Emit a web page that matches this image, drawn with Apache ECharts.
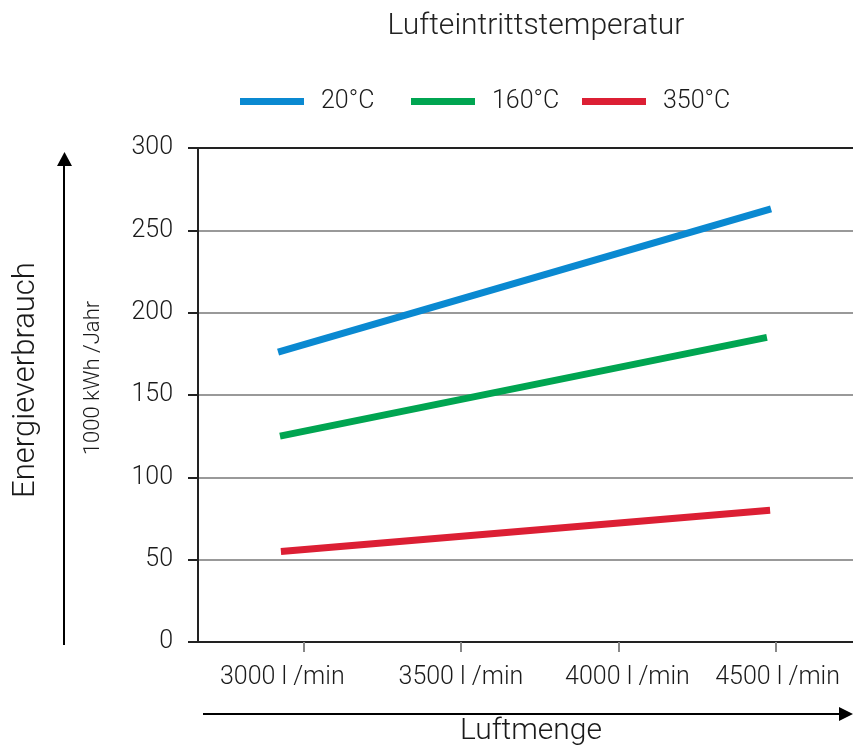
<!DOCTYPE html>
<html>
<head>
<meta charset="utf-8">
<script src="https://cdn.jsdelivr.net/npm/echarts@6/dist/echarts.min.js"></script>
<style>
html,body{margin:0;padding:0;background:#fff;}
#c{width:853px;height:748px;}
</style>
</head>
<body>
<div id="c"></div>
<script>
// ---- data ----
const seriesNames = ['20°C', '160°C', '350°C'];
const flowStart = [2920, 2926, 2929];   // l/min at the left end of each line
const flowEnd   = [4484, 4471, 4481];   // l/min at the right end of each line
const energy20  = [176, 263];
const energy160 = [125, 185];
const energy350 = [55, 80];
const xTickValues = [3000, 3500, 4000, 4500];
const xTickLabels = ['3000 l /min', '3500 l /min', '4000 l /min', '4500 l /min'];
const yTickValues = [0, 50, 100, 150, 200, 250, 300];
const colors = ['#0a89d1', '#00a551', '#dc1f34'];

const FONT = 'Roboto';
const chart = echarts.init(document.getElementById('c'), null, {renderer: 'canvas'});
const energies = [energy20, energy160, energy350];
const labelShift = ['s0', 's1', 's2', 's3'];
const legendLeft = [240, 411, 582];

chart.setOption({
  backgroundColor: '#fff',
  animation: false,
  title: {
    text: 'Lufteintrittstemperatur',
    left: 531, top: 6, textAlign: 'center',
    textStyle: {fontFamily: FONT, fontWeight: 300, fontSize: 30, color: '#222'}
  },
  legend: seriesNames.map(function (name, i) {
    return {
      data: [name],
      left: legendLeft[i], top: 89, padding: 0,
      icon: 'rect', itemWidth: 64, itemHeight: 7,
      textStyle: {fontFamily: FONT, fontWeight: 300, fontSize: 25, color: '#1a1a1a',
                  padding: [0, 0, 0, 12]}
    };
  }),
  grid: {left: 198, right: 0, top: 148, bottom: 106, containLabel: false},
  xAxis: [{
    type: 'value', min: 2666, max: 4744, position: 'bottom',
    axisLine: {show: true, lineStyle: {color: '#222', width: 2}},
    axisTick: {show: true, customValues: xTickValues, length: 10, lineStyle: {color: '#888', width: 2}},
    splitLine: {show: false},
    axisLabel: {
      customValues: xTickValues, margin: 23,
      formatter: function (v) {
        const i = xTickValues.indexOf(v);
        return '{' + labelShift[i] + '|' + xTickLabels[i] + '}';
      },
      fontFamily: FONT, fontWeight: 300, fontSize: 25, color: '#1a1a1a',
      rich: {
        s0: {fontFamily: FONT, fontWeight: 300, fontSize: 25, color: '#1a1a1a', padding: [0, 42, 0, 0]},
        s1: {fontFamily: FONT, fontWeight: 300, fontSize: 25, color: '#1a1a1a', padding: [0, 0, 0, 0]},
        s2: {fontFamily: FONT, fontWeight: 300, fontSize: 25, color: '#1a1a1a', padding: [0, 0, 0, 18]},
        s3: {fontFamily: FONT, fontWeight: 300, fontSize: 25, color: '#1a1a1a', padding: [0, 0, 0, 3]}
      }
    }
  }, {
    type: 'value', min: 2666, max: 4744, position: 'top',
    axisLine: {show: true, lineStyle: {color: '#222', width: 2}},
    axisTick: {show: false}, axisLabel: {show: false}, splitLine: {show: false}
  }],
  yAxis: {
    type: 'value', min: 0, max: 300, interval: 50,
    axisLine: {show: true, lineStyle: {color: '#222', width: 2}},
    axisTick: {show: true, length: 10, lineStyle: {color: '#222', width: 2}},
    splitLine: {show: true, lineStyle: {color: '#999', width: 2}},
    axisLabel: {
      margin: 25, fontFamily: FONT, fontWeight: 300, fontSize: 25, color: '#1a1a1a',
      padding: [0, 0, 8, 0],
      customValues: yTickValues
    }
  },
  series: seriesNames.map(function (name, i) {
    return {
      name: name, type: 'line', xAxisIndex: 0,
      symbol: 'none', showSymbol: false, silent: true,
      color: colors[i],
      itemStyle: {color: colors[i]},
      lineStyle: {color: colors[i], width: 7, cap: 'butt'},
      data: [[flowStart[i], energies[i][0]], [flowEnd[i], energies[i][1]]]
    };
  }),
  graphic: [
    {type: 'line', shape: {x1: 64, y1: 645, x2: 64, y2: 162}, style: {stroke: '#000', lineWidth: 2}},
    {type: 'polygon', shape: {points: [[57, 166], [64.5, 152], [72, 166]]}, style: {fill: '#000'}},
    {type: 'line', shape: {x1: 203, y1: 714, x2: 842, y2: 714}, style: {stroke: '#000', lineWidth: 2}},
    {type: 'polygon', shape: {points: [[839, 707], [853, 714], [839, 721]]}, style: {fill: '#000'}},
    {type: 'text', x: 26, y: 380, rotation: Math.PI / 2,
     style: {text: 'Energieverbrauch', fontFamily: FONT, fontWeight: 300, fontSize: 31, fill: '#1a1a1a',
             textAlign: 'center', textVerticalAlign: 'middle'}},
    {type: 'text', x: 93, y: 378, rotation: Math.PI / 2,
     style: {text: '1000 kWh /Jahr', fontFamily: FONT, fontWeight: 300, fontSize: 22, fill: '#1a1a1a',
             textAlign: 'center', textVerticalAlign: 'middle'}},
    {type: 'text', x: 531, y: 731,
     style: {text: 'Luftmenge', fontFamily: FONT, fontWeight: 300, fontSize: 30, fill: '#1a1a1a',
             textAlign: 'center', textVerticalAlign: 'middle'}}
  ]
});
</script>
</body>
</html>
